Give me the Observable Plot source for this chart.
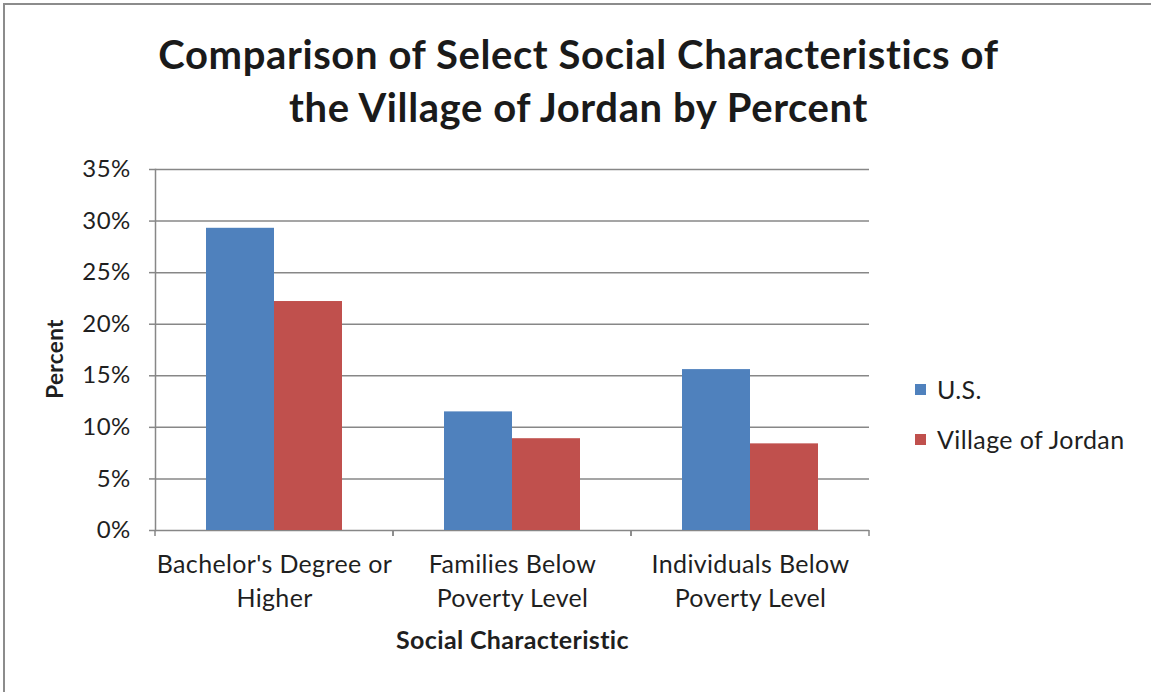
<!DOCTYPE html>
<html>
<head>
<meta charset="utf-8">
<script src="https://cdn.jsdelivr.net/npm/d3@7"></script>
<script src="https://cdn.jsdelivr.net/npm/@observablehq/plot@0.6"></script>
<style>
  html, body { margin: 0; padding: 0; background: #fff; }
  #wrap { position: relative; width: 1151px; height: 692px; overflow: hidden; background: #fff; font-family: Lato, sans-serif; color: #1f1f1f; }
  #border { position: absolute; left: 3px; top: 3px; width: 1300px; height: 900px; border: 2px solid #8c8c8c; box-sizing: border-box; }
  #title { position: absolute; left: 0; width: 1157px; top: 28px; text-align: center; font-weight: bold; font-size: 40px; letter-spacing: 0.6px; line-height: 53px; color: #1a1a1a; }
  #chart { position: absolute; left: 0; top: 150px; }
  .leg { position: absolute; left: 915px; font-size: 25px; letter-spacing: 0.4px; line-height: 25px; display: flex; align-items: center; color: #1f1f1f; }
  .leg span.sw { display: inline-block; width: 11px; height: 11px; margin-right: 11px; }
</style>
</head>
<body>
<div id="wrap">
  <div id="border"></div>
  <div id="title">Comparison of Select Social Characteristics of<br>the Village of Jordan by Percent</div>
  <div id="chart"></div>
  <div id="legend"></div>
</div>
<script>
const categories = ["Bachelor's Degree or Higher", "Families Below Poverty Level", "Individuals Below Poverty Level"];
const categoryLabels = ["Bachelor's Degree or\nHigher", "Families Below\nPoverty Level", "Individuals Below\nPoverty Level"];
const seriesNames = ["U.S.", "Village of Jordan"];
const usValues = [0.293, 0.115, 0.156];
const jordanValues = [0.222, 0.089, 0.084];
const seriesColors = ["#4F81BD", "#C0504D"];
const yTicks = [0, 0.05, 0.10, 0.15, 0.20, 0.25, 0.30, 0.35];

const seriesValues = [usValues, jordanValues];
const data = categories.flatMap((c, i) => seriesNames.map((s, j) => ({category: c, series: s, value: seriesValues[j][i]})));

const gridColor = "#878787";

const boundaryTicks = (index, scales, values, dims) => {
  const g = d3.create("svg:g");
  const yb = dims.height - dims.marginBottom;
  for (const x of [dims.marginLeft, dims.width - dims.marginRight]) {
    g.append("line").attr("x1", x).attr("x2", x).attr("y1", yb).attr("y2", yb + 6)
      .attr("stroke", gridColor).attr("stroke-width", 1.5);
  }
  return g.node();
};

const chart = Plot.plot({
  width: 1151,
  height: 542,
  marginLeft: 154,
  marginRight: 282,
  marginTop: 19,
  marginBottom: 162,
  style: {fontFamily: "Lato, sans-serif", fontSize: "25px", letterSpacing: "0.35px", color: "#1f1f1f", background: "transparent"},
  fx: {domain: categories, padding: 0},
  x: {domain: seriesNames, paddingInner: 0, paddingOuter: 0.75, axis: null},
  y: {domain: [0, 0.35]},
  color: {domain: seriesNames, range: seriesColors},
  marks: [
    Plot.gridY(yTicks, {stroke: gridColor, strokeOpacity: 1, strokeWidth: 1.5}),
    Plot.frame({anchor: "left", facetAnchor: "left", stroke: gridColor, strokeWidth: 1.5}),
    boundaryTicks,
    Plot.barY(data, {fx: "category", x: "series", y: "value", fill: "series"}),
    Plot.axisY(yTicks, {tickFormat: d3.format(".0%"), tickSize: 6, tickPadding: 19, stroke: gridColor, strokeWidth: 1.5,
      fontSize: 24, label: "Percent", labelAnchor: "center", labelArrow: "none", labelOffset: 108}),
    Plot.axisFx({anchor: "bottom", tickSize: 0, tickPadding: 18, lineHeight: 1.36,
      tickFormat: d => categoryLabels[categories.indexOf(d)],
      label: "Social Characteristic", labelAnchor: "center", labelArrow: "none", labelOffset: 118})
  ]
});
document.getElementById("chart").appendChild(chart);
chart.querySelectorAll('g[aria-label$="axis label"]').forEach(g => g.setAttribute("font-weight", "bold"));
const yLabel = chart.querySelector('g[aria-label="y-axis label"]');
if (yLabel) {
  yLabel.setAttribute("font-size", "22.5px");
  yLabel.querySelectorAll("text").forEach(t => t.style.fontSize = "22.5px");
  const tr = yLabel.getAttribute("transform") || "";
  yLabel.setAttribute("transform", "translate(0,9) " + tr);
}

const legend = document.getElementById("legend");
seriesNames.forEach((s, i) => {
  const d = document.createElement("div");
  d.className = "leg";
  d.style.top = (377 + i * 50) + "px";
  d.innerHTML = `<span class="sw" style="background:${seriesColors[i]}"></span><span>${s}</span>`;
  legend.appendChild(d);
});
</script>
</body>
</html>
